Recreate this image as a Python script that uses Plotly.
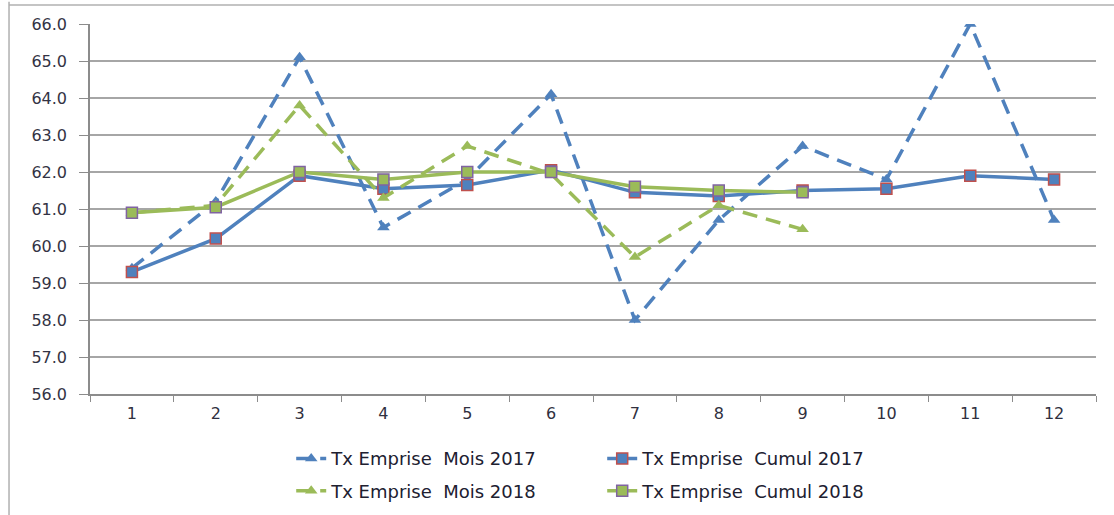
import plotly.graph_objects as go

months = ["1", "2", "3", "4", "5", "6", "7", "8", "9", "10", "11", "12"]
mois_2017 = [59.4, 61.2, 65.1, 60.5, 61.8, 64.1, 58.0, 60.7, 62.7, 61.8, 66.0, 60.7]
cumul_2017 = [59.3, 60.2, 61.9, 61.55, 61.65, 62.05, 61.45, 61.35, 61.5, 61.55, 61.9, 61.8]
mois_2018 = [60.9, 61.1, 63.8, 61.3, 62.7, 61.95, 59.7, 61.1, 60.45]
cumul_2018 = [60.9, 61.05, 62.0, 61.8, 62.0, 62.0, 61.6, 61.5, 61.45]
y_ticks = [56, 57, 58, 59, 60, 61, 62, 63, 64, 65, 66]

BLUE = "#4F81BD"
GREEN = "#9BBB59"
RED = "#C0504D"
PURPLE = "#8064A2"
DASH = "15px,9px"
FAMILY = "'DejaVu Sans', Verdana, sans-serif"

fig = go.Figure()
fig.add_trace(go.Scatter(
    x=months, y=mois_2017, name="Tx Emprise  Mois 2017", mode="lines+markers",
    line=dict(color=BLUE, width=3.5, dash=DASH),
    marker=dict(symbol="triangle-up", size=11, color=BLUE),
    legend="legend"))
fig.add_trace(go.Scatter(
    x=months, y=cumul_2017, name="Tx Emprise  Cumul 2017", mode="lines+markers",
    line=dict(color=BLUE, width=3.5),
    marker=dict(symbol="square", size=11, color=BLUE, line=dict(color=RED, width=1.5)),
    legend="legend"))
fig.add_trace(go.Scatter(
    x=months[:len(mois_2018)], y=mois_2018, name="Tx Emprise  Mois 2018", mode="lines+markers",
    line=dict(color=GREEN, width=3.5, dash=DASH),
    marker=dict(symbol="triangle-up", size=11, color=GREEN),
    legend="legend2"))
fig.add_trace(go.Scatter(
    x=months[:len(cumul_2018)], y=cumul_2018, name="Tx Emprise  Cumul 2018", mode="lines+markers",
    line=dict(color=GREEN, width=3.5),
    marker=dict(symbol="square", size=11, color=GREEN, line=dict(color=PURPLE, width=1.5)),
    legend="legend2"))

legend_common = dict(orientation="h", xanchor="left", yanchor="middle",
                     font=dict(family=FAMILY, size=18, color="#202030"),
                     entrywidth=266, entrywidthmode="pixels", bgcolor="rgba(0,0,0,0)",
                     itemclick=False)

fig.update_layout(
    width=1114, height=515,
    margin=dict(l=90, r=18, t=24, b=121, autoexpand=False),
    paper_bgcolor="white", plot_bgcolor="white",
    font=dict(family=FAMILY, size=16, color="#404040"),
    showlegend=True,
    legend=dict(x=0.2, y=-0.175, **legend_common),
    legend2=dict(x=0.2, y=-0.262, **legend_common),
    xaxis=dict(type="category", categoryorder="array", categoryarray=months,
               range=[-0.5, 11.5], showgrid=False, showline=True, linecolor="#8C8C8C",
               linewidth=1.5, ticks="outside", tickson="boundaries", ticklen=6,
               tickcolor="#8C8C8C", ticklabelstandoff=4,
               tickfont=dict(size=16, color="#303040"), zeroline=False),
    yaxis=dict(range=[56, 66], tickvals=y_ticks, tickformat=".1f", showgrid=True,
               gridcolor="#A6A6A6", gridwidth=1.5, showline=True, linecolor="#8C8C8C",
               linewidth=1.5, ticks="outside", ticklen=9, tickcolor="#8C8C8C",
               ticklabelstandoff=9,
               tickfont=dict(size=16, color="#333344"), zeroline=False),
    shapes=[
        dict(type="line", xref="paper", yref="paper", x0=-0.0805, x1=-0.0805, y0=1.06, y1=-0.35,
             line=dict(color="#B0B0B0", width=1.5)),
        dict(type="line", xref="paper", yref="paper", x0=-0.0805, x1=1.02, y0=1.0514, y1=1.0514,
             line=dict(color="#B0B0B0", width=1.5)),
    ],
)

fig.write_html("out.html", post_script="document.body.style.margin='0';",
               config={"displayModeBar": False})
